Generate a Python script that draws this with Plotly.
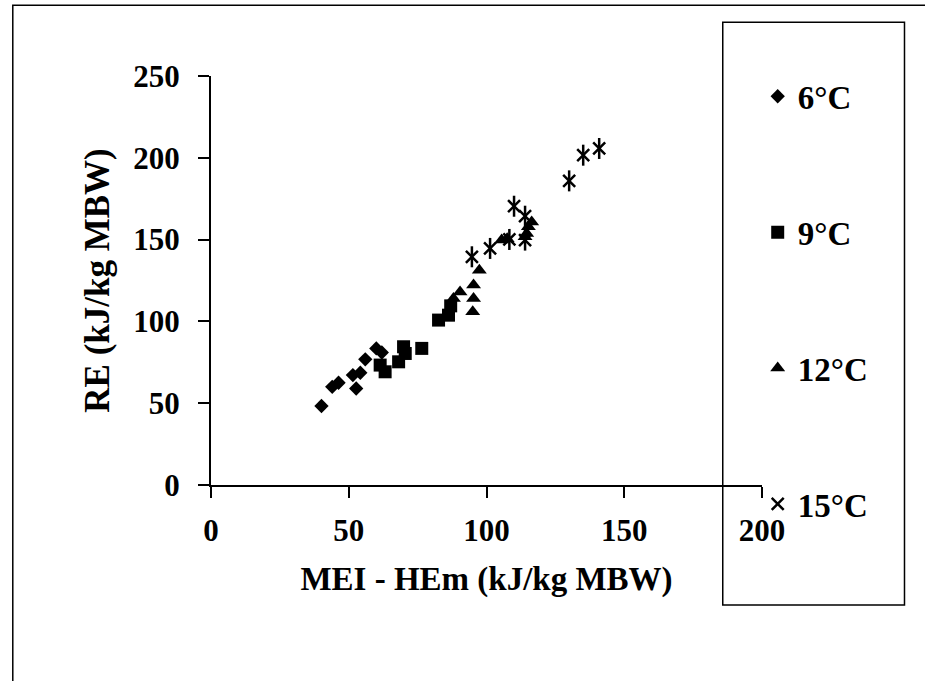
import plotly.graph_objects as go

# 6°C
x6 = [40.1, 44.0, 46.3, 51.5, 52.7, 54.2, 56.0, 60.0, 62.0]
y6 = [48.3, 60.0, 62.5, 67.2, 59.0, 68.6, 76.8, 83.5, 81.0]
# 9°C
x9 = [61.4, 63.2, 68.1, 69.9, 70.5, 76.5, 82.6, 86.2, 87.0]
y9 = [73.3, 69.2, 75.3, 84.5, 80.4, 83.5, 100.8, 103.8, 109.5]
# 12°C
x12 = [88.0, 90.4, 95.0, 95.3, 95.3, 97.4, 105.5, 107.5, 114.0, 114.6, 115.2, 116.4]
y12 = [114.0, 118.0, 105.9, 114.0, 122.2, 131.3, 149.7, 150.5, 151.7, 153.8, 157.8, 160.8]
# 15°C
x15 = [94.7, 101.3, 108.3, 114.0, 110.0, 114.0, 130.0, 135.1, 140.9]
y15 = [139.5, 144.6, 150.1, 149.7, 170.4, 164.3, 185.9, 201.6, 205.7]

x_ticks = [0, 50, 100, 150, 200]
y_ticks = [0, 50, 100, 150, 200, 250]

FONT = "Liberation Serif, Times New Roman, serif"
FS = 31
FT = 33

fig = go.Figure()
fig.add_trace(go.Scatter(x=x6, y=y6, mode="markers", name="6°C", legendgroup="a",
                         marker=dict(symbol="diamond", size=11, color="black")))
fig.add_trace(go.Scatter(x=x9, y=y9, mode="markers", name="9°C", legendgroup="b",
                         marker=dict(symbol="square", size=13, color="black")))
fig.add_trace(go.Scatter(x=x12, y=y12, mode="markers", name="12°C", legendgroup="c",
                         marker=dict(symbol="triangle-up", size=13, color="black")))
fig.add_trace(go.Scatter(x=x15, y=y15, mode="markers", name="15°C", legendgroup="d",
                         marker=dict(symbol="x-thin-open", size=12, color="black",
                                     line=dict(width=2.5, color="black"))))
fig.add_trace(go.Scatter(x=x15, y=y15, mode="markers", name="15°C", legendgroup="d",
                         showlegend=False,
                         marker=dict(symbol="line-ns-open", size=15, color="black",
                                     line=dict(width=2.5, color="black"))))

L, R, T, B = 210.5, 925 - 762.3, 75.7, 681 - 485
pw = 925 - L - R
ph = 681 - T - B

def px(xp):
    return (xp - L) / pw

def py(yp):
    return (681 - B - yp) / ph

fig.update_layout(
    width=925, height=681,
    margin=dict(l=L, r=R, t=T, b=B, pad=0),
    paper_bgcolor="white", plot_bgcolor="white",
    font=dict(family=FONT, size=FS, color="black", weight="bold"),
    showlegend=True,
    legend=dict(x=px(758), y=py(68), xanchor="left", yanchor="top",
                bgcolor="rgba(0,0,0,0)", borderwidth=0,
                tracegroupgap=90, maxheight=640,
                font=dict(family=FONT, size=FT, color="black", weight="bold")),
    shapes=[
        dict(type="rect", xref="paper", yref="paper",
             x0=px(723), x1=px(905), y0=py(605), y1=py(22),
             line=dict(color="black", width=1.5), fillcolor="rgba(0,0,0,0)"),
        dict(type="rect", xref="paper", yref="paper",
             x0=px(12), x1=px(940), y0=py(700), y1=py(5),
             line=dict(color="black", width=1.5), fillcolor="rgba(0,0,0,0)"),
    ],
)
fig.update_xaxes(range=[0, 200], tickvals=x_ticks, ticktext=[str(v) for v in x_ticks],
                 showgrid=False, zeroline=False, showline=True, linecolor="black", linewidth=2,
                 ticks="outside", ticklen=11, tickwidth=2, tickcolor="black",
                 ticklabelstandoff=6,
                 tickfont=dict(family=FONT, size=FS, color="black", weight="bold"),
                 title=dict(text="MEI - HEm (kJ/kg MBW)", standoff=20,
                            font=dict(family=FONT, size=FT, color="black", weight="bold")))
fig.update_yaxes(range=[0, 250], tickvals=y_ticks, ticktext=[str(v) for v in y_ticks],
                 showgrid=False, zeroline=False, showline=True, linecolor="black", linewidth=2,
                 ticks="outside", ticklen=11, tickwidth=2, tickcolor="black",
                 ticklabelstandoff=12,
                 tickfont=dict(family=FONT, size=FS, color="black", weight="bold"),
                 title=dict(text="RE (kJ/kg MBW)", standoff=13,
                            font=dict(family=FONT, size=35, color="black", weight="bold")))

fig.write_html("out.html")
